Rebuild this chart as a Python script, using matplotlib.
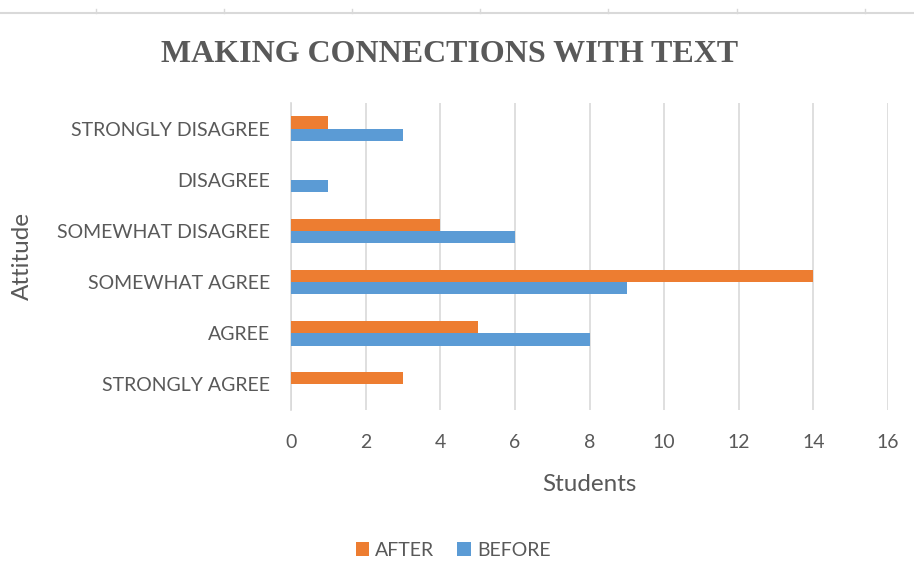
import matplotlib.pyplot as plt
from matplotlib.lines import Line2D
import numpy as np

# data, bottom to top as drawn
attitudes = ["STRONGLY AGREE", "AGREE", "SOMEWHAT AGREE",
             "SOMEWHAT DISAGREE", "DISAGREE", "STRONGLY DISAGREE"]
before = [0, 8, 9, 6, 1, 3]
after = [3, 5, 14, 4, 0, 1]
x_ticks = [0, 2, 4, 6, 8, 10, 12, 14, 16]

ORANGE = "#ED7D31"
BLUE = "#5B9BD5"
GREY = "#595959"
GRID = "#d9d9d9"
SANS = ["Lato", "DejaVu Sans"]
FS = 14

fig = plt.figure(figsize=(9.14, 5.63), dpi=100)
ax = fig.add_axes([291 / 914, 1 - 410 / 563, (888 - 291) / 914, (410 - 103) / 563])

y = np.arange(len(attitudes))
h = 0.24
ax.barh(y + h / 2, after, height=h, color=ORANGE, label="AFTER", zorder=3)
ax.barh(y - h / 2, before, height=h, color=BLUE, label="BEFORE", zorder=3)

ax.set_xlim(0, 16)
ax.set_ylim(-0.5, len(attitudes) - 0.5)
ax.set_xticks(x_ticks)
ax.set_yticks(y)
ax.set_yticklabels(attitudes)
ax.xaxis.grid(True, color=GRID, linewidth=1.2, zorder=0)
ax.tick_params(length=0, labelsize=FS, labelcolor=GREY, pad=17)
ax.tick_params(axis="y", pad=15)
for lab in ax.get_xticklabels() + ax.get_yticklabels():
    lab.set_family(SANS)
for s in ["top", "right", "bottom"]:
    ax.spines[s].set_visible(False)
ax.spines["left"].set_color(GRID)
ax.spines["left"].set_linewidth(1.2)

ax.set_xlabel("Students", fontsize=17.5, color=GREY, family=SANS, labelpad=17)
fig.text(22 / 914, 1 - 256 / 563, "Attitude", rotation=90, fontsize=17.5,
         color=GREY, family=SANS, ha="center", va="center")

fig.text(450 / 914, 1 - 55 / 563, "MAKING CONNECTIONS WITH TEXT",
         fontsize=23, fontweight="bold", color=GREY,
         family=["Liberation Serif", "DejaVu Serif"], ha="center", va="center")

handles, labels = ax.get_legend_handles_labels()
leg = fig.legend(handles, labels, loc="center", bbox_to_anchor=(453 / 914, 1 - 550 / 563),
                 ncol=2, frameon=False, handlelength=0.7, handleheight=0.7,
                 handletextpad=0.3, columnspacing=1.2,
                 prop={"family": SANS, "size": FS})
for t in leg.get_texts():
    t.set_color(GREY)

# spreadsheet border line at the very top of the screenshot
fig.add_artist(Line2D([0, 1], [1 - 13 / 563] * 2, color=GRID, linewidth=1.5,
                      transform=fig.transFigure))
for tx in [96, 224, 352, 480, 608, 737, 865]:
    fig.add_artist(Line2D([tx / 914] * 2, [1 - 9 / 563, 1 - 13 / 563], color=GRID,
                          linewidth=1, transform=fig.transFigure))

fig.savefig("out.png", dpi=100)
